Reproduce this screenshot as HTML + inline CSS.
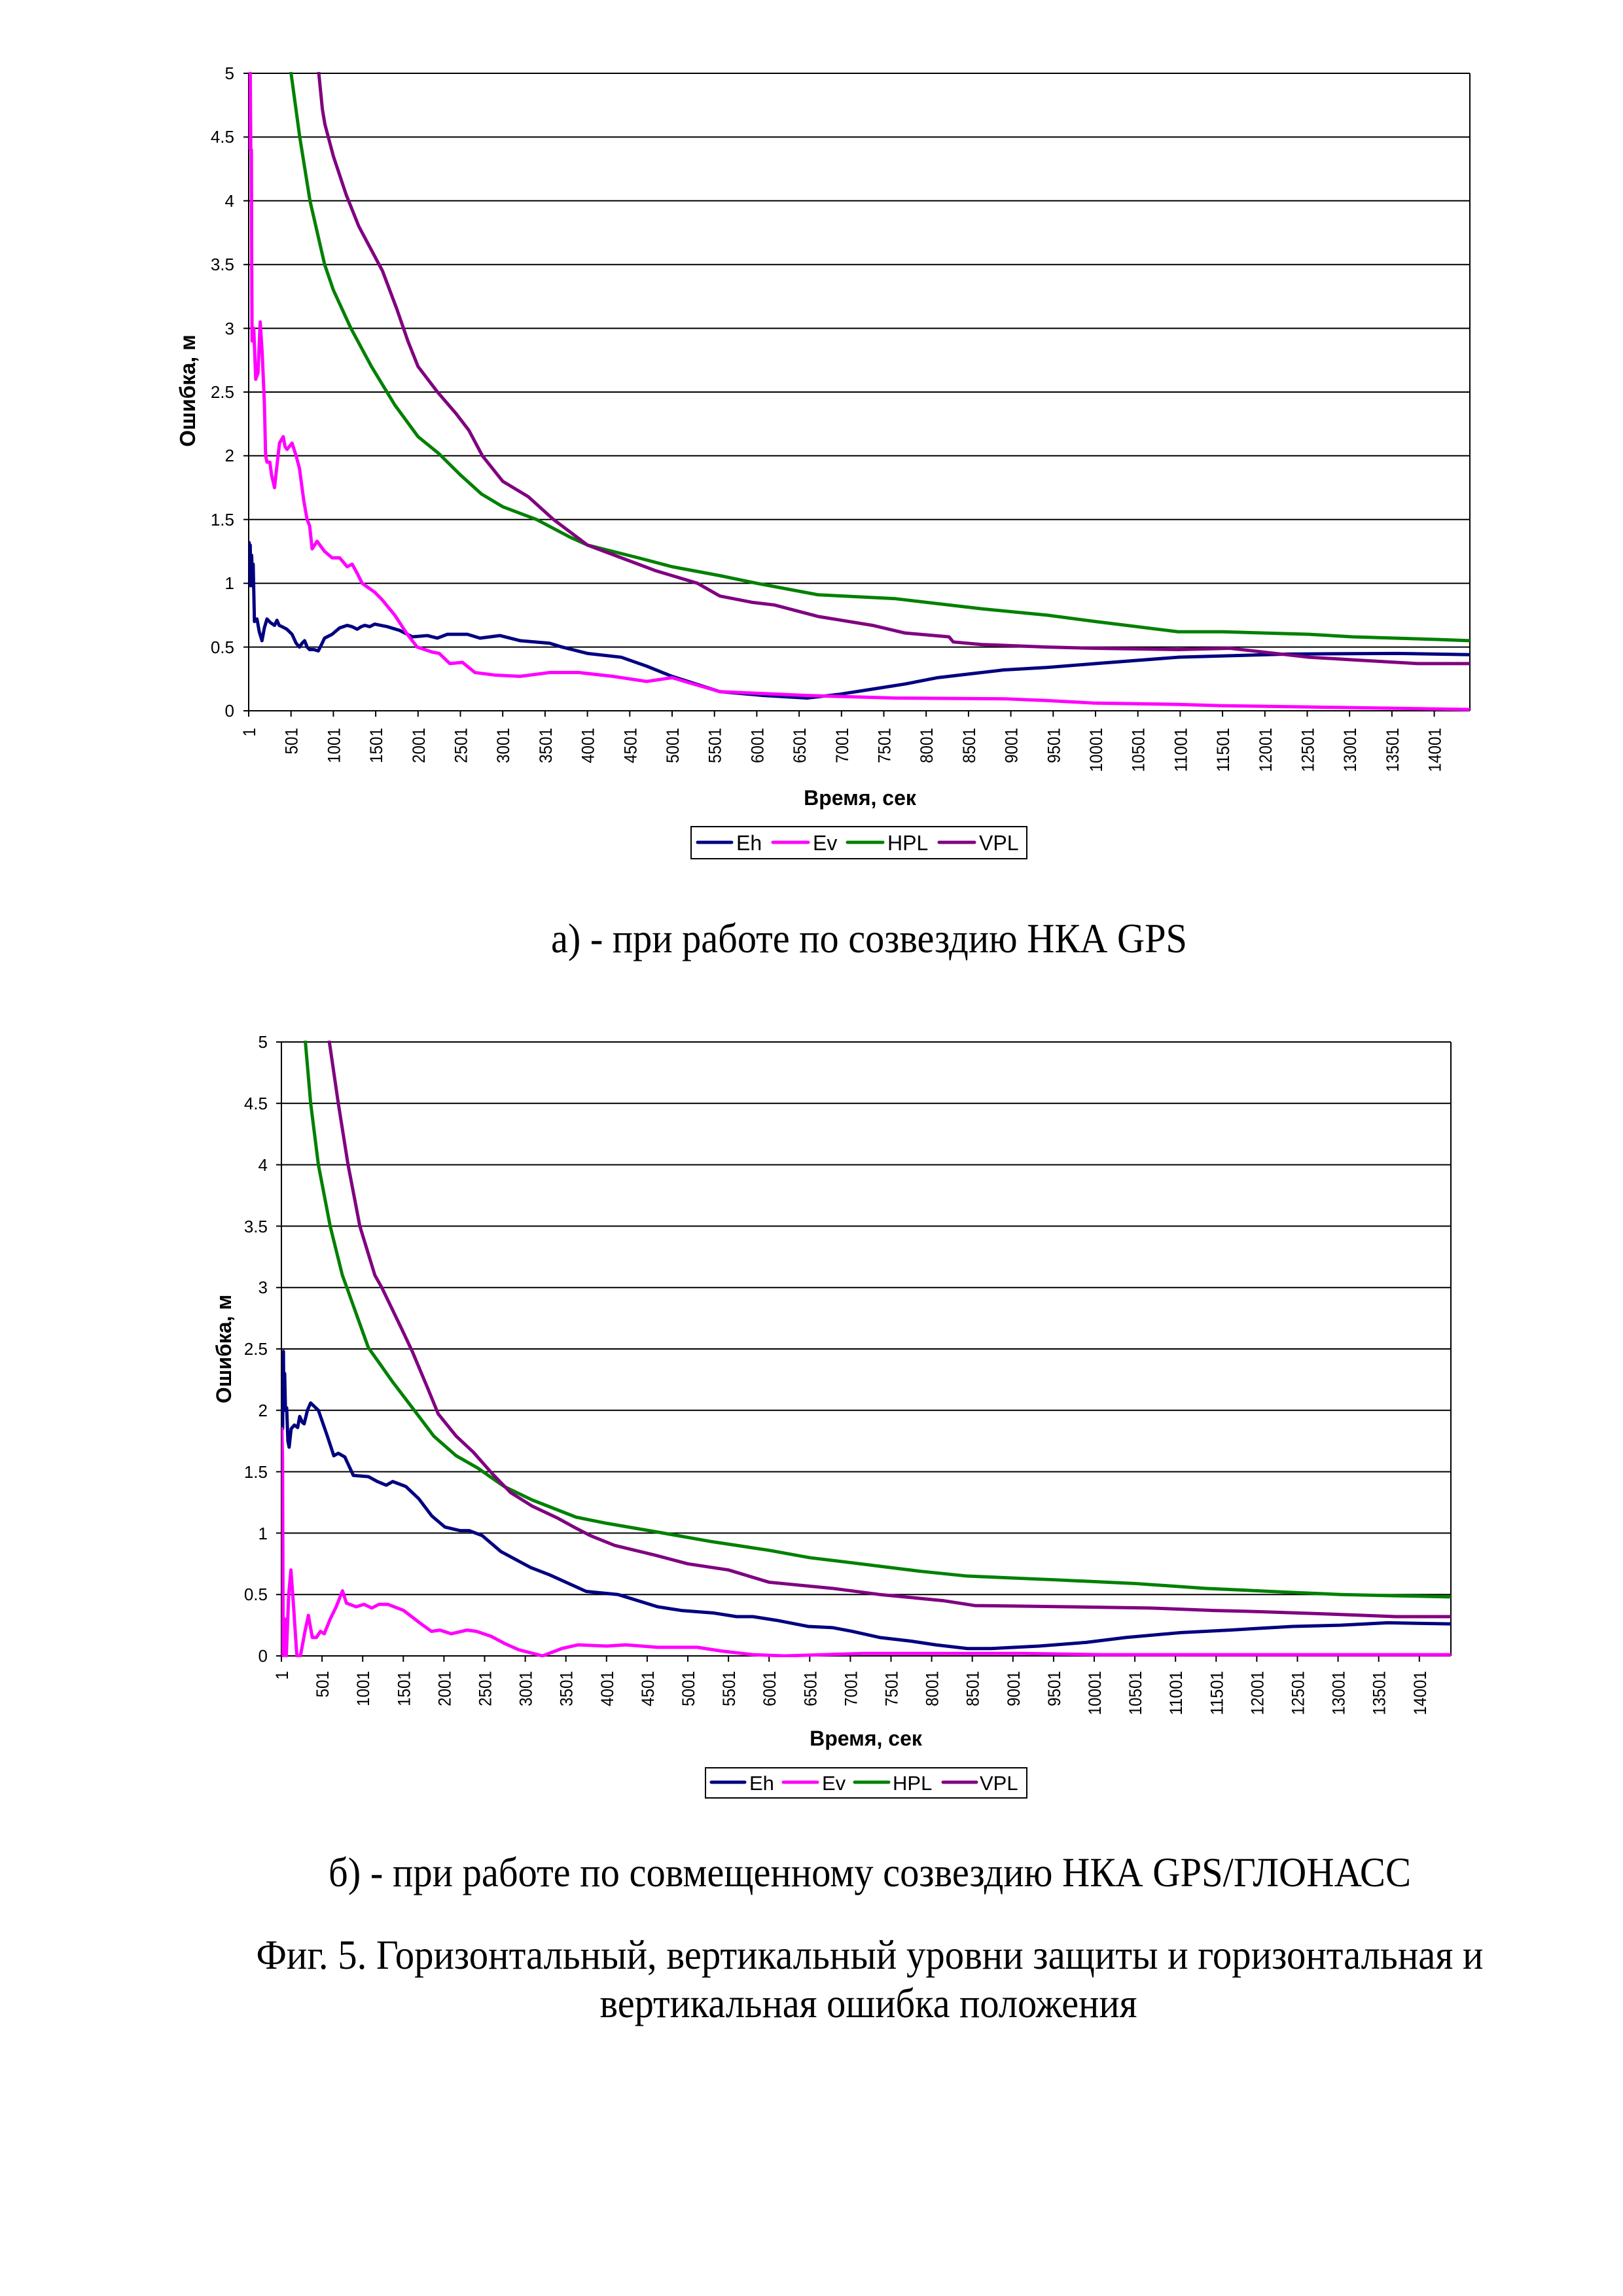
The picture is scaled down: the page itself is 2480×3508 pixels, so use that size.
<!DOCTYPE html>
<html><head><meta charset="utf-8"><style>html,body{margin:0;padding:0;background:#fff}svg{display:block}</style></head>
<body>
<svg xmlns="http://www.w3.org/2000/svg" width="2480" height="3508" viewBox="0 0 2480 3508">
<defs>
<clipPath id="c1"><rect x="380" y="110" width="1866" height="978"/></clipPath>
<clipPath id="c2"><rect x="430" y="1590" width="1787" height="942"/></clipPath>
</defs>
<rect width="2480" height="3508" fill="#fff"/>
<g font-family="Liberation Sans, Arial, sans-serif" fill="#000">
<!-- ===== Chart 1 ===== -->
<g stroke="#000" stroke-width="2" fill="none">
<path d="M372 112H2246M372 209.4H2246M372 306.8H2246M372 404.2H2246M372 501.6H2246M372 599H2246M372 696.4H2246M372 793.8H2246M372 891.2H2246M372 988.6H2246M372 1086H2246"/>
<path d="M380 112V1086M2246 112V1086"/>
<path d="M380 1086v9M444.7 1086v9M509.4 1086v9M574.1 1086v9M638.8 1086v9M703.5 1086v9M768.2 1086v9M832.9 1086v9M897.6 1086v9M962.3 1086v9M1027 1086v9M1091.7 1086v9M1156.4 1086v9M1221.1 1086v9M1285.8 1086v9M1350.5 1086v9M1415.2 1086v9M1479.9 1086v9M1544.6 1086v9M1609.3 1086v9M1674 1086v9M1738.7 1086v9M1803.4 1086v9M1868.1 1086v9M1932.8 1086v9M1997.5 1086v9M2062.2 1086v9M2126.9 1086v9M2191.6 1086v9"/>
</g>
<g font-size="26" text-anchor="end">
<text x="358" y="121">5</text><text x="358" y="218">4.5</text><text x="358" y="316">4</text><text x="358" y="413">3.5</text><text x="358" y="511">3</text><text x="358" y="608">2.5</text><text x="358" y="705">2</text><text x="358" y="803">1.5</text><text x="358" y="900">1</text><text x="358" y="998">0.5</text><text x="358" y="1095">0</text>
</g>
<g font-size="27" text-anchor="end" id="xl1"></g>
<text x="0" y="0" font-size="33" font-weight="bold" text-anchor="middle" transform="translate(298,597) rotate(-90)">Ошибка, м</text>
<text x="1314" y="1230" font-size="32" font-weight="bold" text-anchor="middle">Время, сек</text>
<rect x="1056" y="1263" width="513" height="49" fill="none" stroke="#000" stroke-width="2"/>
<g stroke-width="5" stroke-linecap="round">
<path d="M1066 1287H1118" stroke="#000080"/><path d="M1181 1287H1235" stroke="#FF00FF"/><path d="M1295 1287H1349" stroke="#008000"/><path d="M1435 1287H1489" stroke="#800080"/>
</g>
<g font-size="32"><text x="1125" y="1299">Eh</text><text x="1242" y="1299">Ev</text><text x="1356" y="1299">HPL</text><text x="1496" y="1299">VPL</text></g>

<g clip-path="url(#c1)">
<g transform="matrix(0.1294,0,0,-194.8,380,1086)" fill="none" stroke-width="5" stroke-linejoin="round">
<polyline vector-effect="non-scaling-stroke" stroke="#000080" points="1,1.2 5,1.32 12,1.0 18,1.3 25,0.98 35,1.22 45,1.0 53,1.15 68,0.7 98,0.72 125,0.62 157,0.55 185,0.65 216,0.72 260,0.69 305,0.67 334,0.71 360,0.67 393,0.66 450,0.64 512,0.6 560,0.53 600,0.5 630,0.53 660,0.55 690,0.5 719,0.48 770,0.48 822,0.47 860,0.52 896,0.57 985,0.6 1074,0.65 1163,0.67 1220,0.66 1281,0.64 1330,0.66 1370,0.67 1430,0.66 1488,0.68 1636,0.66 1784,0.63 1932,0.58 2109,0.59 2228,0.57 2346,0.6 2583,0.6 2731,0.57 2967,0.59 3204,0.55 3553,0.53 3700,0.5 4000,0.45 4400,0.42 4700,0.35 5000,0.27 5564,0.15 6080,0.12 6595,0.1 6980,0.13 7367,0.17 7750,0.21 8137,0.26 8524,0.29 8910,0.32 9428,0.34 10000,0.37 10975,0.42 12264,0.445 13552,0.45 14420,0.44"/>
<polyline vector-effect="non-scaling-stroke" stroke="#FF00FF" points="1,4.4 8,5.3 15,5.3 25,4.4 32,4.4 36,3.5 40,2.9 60,3.0 83,2.6 110,2.65 136,3.05 160,2.8 186,2.4 200,2.0 216,1.95 250,1.95 270,1.85 305,1.75 330,1.9 364,2.1 408,2.15 430,2.07 453,2.05 512,2.1 560,2.0 600,1.9 650,1.65 690,1.5 720,1.45 749,1.27 808,1.33 896,1.25 985,1.2 1074,1.2 1163,1.13 1222,1.15 1280,1.08 1340,1.0 1488,0.93 1577,0.87 1725,0.75 1873,0.6 1990,0.5 2169,0.46 2250,0.45 2376,0.37 2524,0.38 2672,0.3 2908,0.28 3204,0.27 3553,0.3 3900,0.3 4300,0.27 4700,0.23 5000,0.26 5200,0.22 5564,0.15 6595,0.12 7627,0.1 8930,0.094 9428,0.08 10000,0.06 10975,0.05 11500,0.04 12500,0.03 13500,0.02 14420,0.01"/>
<polyline vector-effect="non-scaling-stroke" stroke="#008000" points="480,5.1 603,4.5 724,4.0 897,3.5 1000,3.3 1207,3.0 1450,2.7 1724,2.4 2000,2.15 2241,2.02 2500,1.85 2750,1.7 3001,1.6 3400,1.5 3800,1.36 4001,1.3 4300,1.25 4600,1.2 5000,1.13 5564,1.06 6000,1.0 6723,0.91 7627,0.88 8655,0.8 9428,0.75 10000,0.7 10975,0.62 11500,0.62 12519,0.6 13036,0.58 14000,0.56 14420,0.55"/>
<polyline vector-effect="non-scaling-stroke" stroke="#800080" points="800,5.3 828,5.0 870,4.72 900,4.6 1000,4.35 1150,4.05 1300,3.8 1500,3.55 1580,3.45 1750,3.15 1880,2.9 2000,2.7 2230,2.5 2450,2.33 2600,2.2 2760,2.0 3000,1.8 3300,1.68 3600,1.5 4000,1.3 4400,1.2 4800,1.1 5300,1.0 5564,0.9 5950,0.85 6207,0.83 6723,0.74 7367,0.67 7750,0.61 8270,0.58 8320,0.54 8655,0.52 9428,0.5 10000,0.49 10975,0.48 11590,0.49 12519,0.42 13036,0.4 13809,0.37 14420,0.37"/>
</g>
</g>

<text x="1328" y="1455" font-family="Liberation Serif, Times New Roman, serif" font-size="64" text-anchor="middle" textLength="972" lengthAdjust="spacingAndGlyphs">а) - при работе по созвездию НКА GPS</text>

<!-- ===== Chart 2 ===== -->
<g stroke="#000" stroke-width="2" fill="none">
<path d="M422 1592H2217M422 1685.8H2217M422 1779.6H2217M422 1873.4H2217M422 1967.2H2217M422 2061H2217M422 2154.8H2217M422 2248.6H2217M422 2342.4H2217M422 2436.2H2217M422 2530H2217"/>
<path d="M430 1592V2530M2217 1592V2530"/>
<path d="M430 2530v9M492.1 2530v9M554.2 2530v9M616.3 2530v9M678.4 2530v9M740.5 2530v9M802.6 2530v9M864.7 2530v9M926.8 2530v9M988.9 2530v9M1051 2530v9M1113.1 2530v9M1175.2 2530v9M1237.3 2530v9M1299.4 2530v9M1361.5 2530v9M1423.6 2530v9M1485.7 2530v9M1547.8 2530v9M1609.9 2530v9M1672 2530v9M1734.1 2530v9M1796.2 2530v9M1858.3 2530v9M1920.4 2530v9M1982.5 2530v9M2044.6 2530v9M2106.7 2530v9M2168.8 2530v9"/>
</g>
<g font-size="26" text-anchor="end">
<text x="409" y="1601">5</text><text x="409" y="1695">4.5</text><text x="409" y="1789">4</text><text x="409" y="1883">3.5</text><text x="409" y="1976">3</text><text x="409" y="2070">2.5</text><text x="409" y="2164">2</text><text x="409" y="2258">1.5</text><text x="409" y="2352">1</text><text x="409" y="2445">0.5</text><text x="409" y="2539">0</text>
</g>
<g font-size="27" text-anchor="end" id="xl2"></g>
<text x="0" y="0" font-size="32" font-weight="bold" text-anchor="middle" transform="translate(353,2061) rotate(-90)">Ошибка, м</text>
<text x="1323" y="2667" font-size="32" font-weight="bold" text-anchor="middle">Время, сек</text>
<rect x="1078" y="2701" width="491" height="46" fill="none" stroke="#000" stroke-width="2"/>
<g stroke-width="5" stroke-linecap="round">
<path d="M1087 2723H1138" stroke="#000080"/><path d="M1197 2723H1249" stroke="#FF00FF"/><path d="M1306 2723H1358" stroke="#008000"/><path d="M1441 2723H1492" stroke="#800080"/>
</g>
<g font-size="31"><text x="1145" y="2735">Eh</text><text x="1256" y="2735">Ev</text><text x="1364" y="2735">HPL</text><text x="1497" y="2735">VPL</text></g>

<g clip-path="url(#c2)">
<g transform="matrix(0.1242,0,0,-187.6,430,2530)" fill="none" stroke-width="5" stroke-linejoin="round">
<polyline vector-effect="non-scaling-stroke" stroke="#000080" points="1,1.75 8,2.0 15,1.85 25,2.48 30,2.0 40,2.3 50,2.0 65,2.02 80,1.75 95,1.7 120,1.85 160,1.88 200,1.86 225,1.95 260,1.9 280,1.89 320,2.0 360,2.06 455,2.0 560,1.8 645,1.63 700,1.65 780,1.62 885,1.47 1070,1.46 1180,1.42 1290,1.39 1370,1.42 1530,1.38 1690,1.28 1850,1.14 2010,1.05 2200,1.02 2310,1.02 2470,0.98 2700,0.85 3066,0.72 3300,0.66 3750,0.525 4140,0.5 4630,0.4 4920,0.37 5310,0.35 5600,0.32 5800,0.32 6090,0.29 6480,0.24 6780,0.23 7020,0.2 7360,0.15 7750,0.12 8050,0.09 8440,0.06 8730,0.06 9320,0.08 9900,0.11 10390,0.15 11070,0.19 11660,0.21 12440,0.24 13030,0.25 13610,0.27 14420,0.26"/>
<polyline vector-effect="non-scaling-stroke" stroke="#FF00FF" points="1,0 6,1.85 14,1.6 22,0 40,0.3 60,0 90,0.5 117,0.7 150,0.4 190,0 234,0 290,0.2 332,0.33 380,0.15 430,0.15 480,0.2 527,0.18 600,0.3 674,0.4 752,0.53 800,0.43 918,0.4 1016,0.42 1113,0.39 1200,0.42 1309,0.42 1504,0.37 1700,0.27 1846,0.2 1950,0.21 2090,0.18 2285,0.21 2400,0.2 2578,0.16 2750,0.1 2920,0.05 3213,0 3450,0.06 3652,0.09 4000,0.08 4238,0.09 4629,0.07 5117,0.07 5410,0.04 5801,0.01 6191,0 7168,0.02 9120,0.02 10100,0.01 14420,0.01"/>
<polyline vector-effect="non-scaling-stroke" stroke="#008000" points="280,5.2 295,5.0 360,4.5 455,4.0 600,3.5 750,3.1 805,3.0 1070,2.51 1210,2.38 1370,2.23 1635,2.0 1875,1.79 2150,1.63 2415,1.53 2740,1.38 3085,1.27 3355,1.2 3625,1.13 4000,1.08 4700,1.0 5300,0.93 6000,0.86 6500,0.8 7000,0.76 7850,0.69 8440,0.65 9510,0.62 10490,0.59 11370,0.55 12340,0.52 13030,0.5 13710,0.49 14420,0.48"/>
<polyline vector-effect="non-scaling-stroke" stroke="#800080" points="570,5.2 590,5.0 700,4.5 820,4.0 965,3.5 1150,3.1 1235,3.0 1475,2.67 1610,2.48 1800,2.18 1930,1.97 2150,1.79 2360,1.66 2600,1.48 2820,1.33 3085,1.22 3405,1.12 3625,1.04 3800,0.98 4100,0.9 4600,0.82 5000,0.75 5500,0.7 6000,0.6 6780,0.55 7360,0.5 8140,0.45 8530,0.41 9710,0.4 10690,0.39 11470,0.37 12050,0.36 12930,0.34 13710,0.32 14420,0.32"/>
</g>
</g>

<g font-family="Liberation Serif, Times New Roman, serif" font-size="64" text-anchor="middle">
<text x="1329" y="2882" textLength="1654" lengthAdjust="spacingAndGlyphs">б) - при работе по совмещенному созвездию НКА GPS/ГЛОНАСС</text>
<text x="1329" y="3008" textLength="1875" lengthAdjust="spacingAndGlyphs">Фиг. 5. Горизонтальный, вертикальный уровни защиты и горизонтальная и</text>
<text x="1327" y="3082" textLength="821" lengthAdjust="spacingAndGlyphs">вертикальная ошибка положения</text>
</g>
</g>
<script>
(function(){
 var ns="http://www.w3.org/2000/svg";
 function lab(id,x0,step,top){
  var g=document.getElementById(id);
  for(var i=0;i<29;i++){
   var s=String(1+500*i);var x=x0+step*i+10;
   var t=document.createElementNS(ns,"text");
   t.setAttribute("transform","translate("+x+","+top+") rotate(-90)");
   t.setAttribute("textLength",String(s.length*13.5));
   t.setAttribute("lengthAdjust","spacingAndGlyphs");
   t.textContent=s;g.appendChild(t);
  }
 }
 lab("xl1",380,64.7,1112);
 lab("xl2",430,62.1,2553);
})();
</script>
</svg>
</body></html>
